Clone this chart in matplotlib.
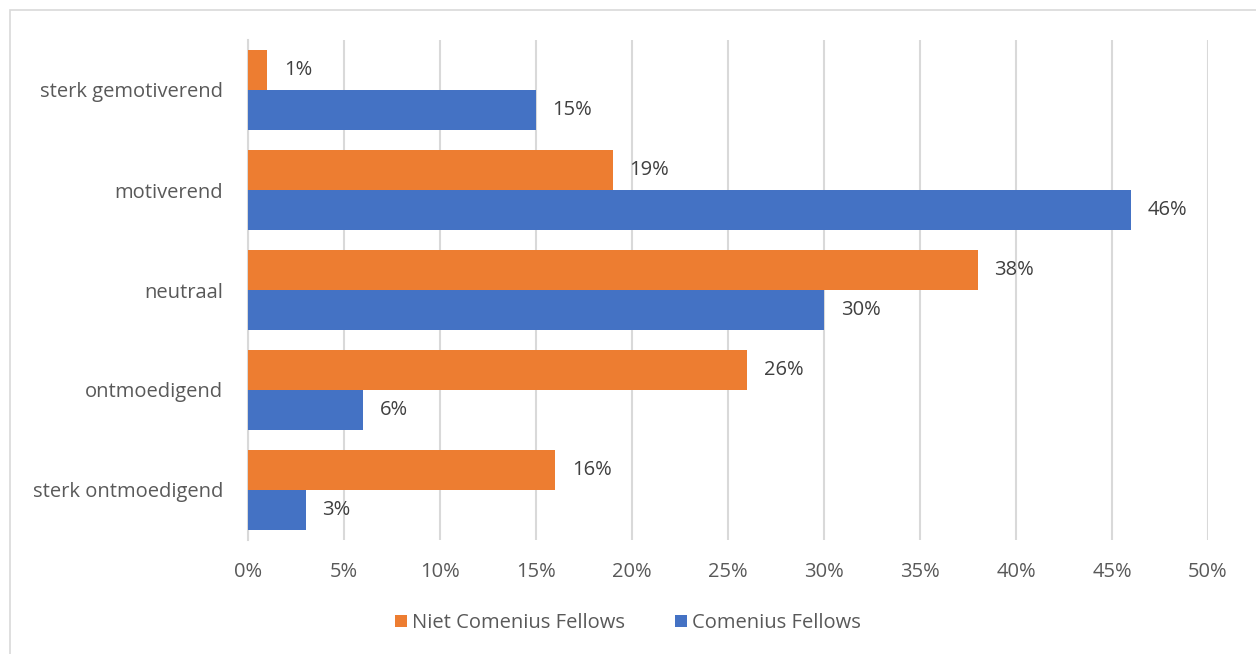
import matplotlib.pyplot as plt
import numpy as np
from matplotlib.patches import Rectangle

# Data
categories = ["sterk gemotiverend", "motiverend", "neutraal", "ontmoedigend", "sterk ontmoedigend"]
niet_fellows = [1, 19, 38, 26, 16]
fellows = [15, 46, 30, 6, 3]
xticks = [0, 5, 10, 15, 20, 25, 30, 35, 40, 45, 50]

ORANGE = "#ED7D31"
BLUE = "#4472C4"
TEXT = "#595959"
GRID = "#D9D9D9"
FS = 14.5

plt.rcParams['font.family'] = ['Open Sans', 'DejaVu Sans']

W, H = 1256, 654
fig = plt.figure(figsize=(W / 100, H / 100), dpi=100)
ax = fig.add_axes([248 / W, 1 - 540 / H, (1208 - 248) / W, 500 / H])

y = np.arange(len(categories))
h = 0.4
b1 = ax.barh(y - h / 2, niet_fellows, height=h, color=ORANGE, label="Niet Comenius Fellows", zorder=3)
b2 = ax.barh(y + h / 2, fellows, height=h, color=BLUE, label="Comenius Fellows", zorder=3)

for bars, vals in ((b1, niet_fellows), (b2, fellows)):
    for bar, v in zip(bars, vals):
        ax.annotate(f"{v}%", (bar.get_width(), bar.get_y() + bar.get_height() / 2),
                    xytext=(12, 0), textcoords="offset points", va="center", ha="left",
                    fontsize=FS, color="#404040")

ax.set_xlim(0, 50)
ax.set_ylim(len(categories) - 0.5, -0.5)
ax.set_yticks(y)
ax.set_yticklabels(categories, fontsize=FS, color=TEXT)
ax.set_xticks(xticks)
ax.set_xticklabels([f"{t}%" for t in xticks], fontsize=FS, color=TEXT)
ax.tick_params(length=0)
ax.tick_params(axis="x", pad=16)
ax.tick_params(axis="y", pad=18)

ax.grid(axis="x", color=GRID, linewidth=1.5, zorder=0)
for s in ("top", "right", "bottom"):
    ax.spines[s].set_visible(False)
ax.spines["left"].set_color(GRID)
ax.spines["left"].set_linewidth(1.5)

fig.legend(handles=[b1, b2], loc="center", bbox_to_anchor=(0.5, 1 - 623 / H), ncol=2,
           frameon=False, fontsize=FS, labelcolor=TEXT, handlelength=0.6, handleheight=0.6,
           handletextpad=0.25, columnspacing=2.5)

# chart border
fig.patches.append(Rectangle((10 / W, -0.1), 1.1, 1 - 10 / H + 0.1, transform=fig.transFigure,
                             fill=False, edgecolor=GRID, linewidth=1.2))

fig.savefig("out.png", dpi=100, facecolor="white")
